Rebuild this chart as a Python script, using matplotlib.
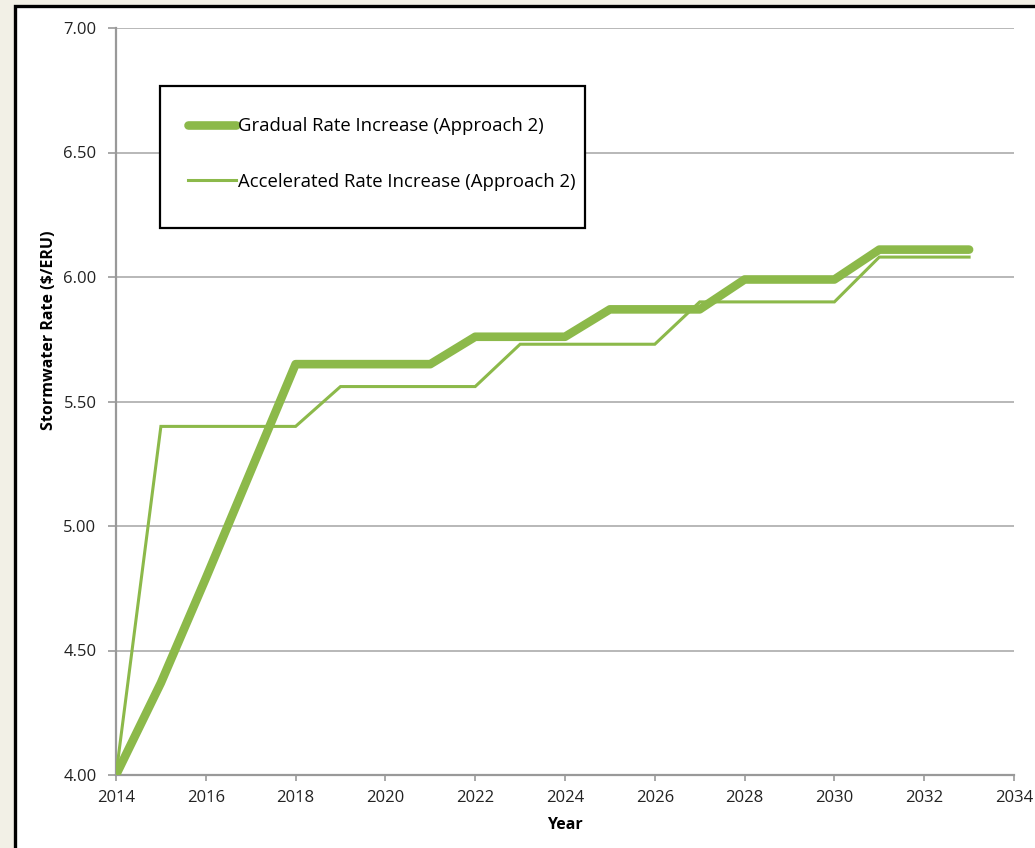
import matplotlib
matplotlib.use("Agg")
import matplotlib.pyplot as plt
from matplotlib.patches import Rectangle
from matplotlib.lines import Line2D

plt.rcParams['font.family'] = ['Open Sans', 'DejaVu Sans']

years = list(range(2014, 2034))
gradual = [4.00, 4.37, 4.79, 5.22, 5.65, 5.65, 5.65, 5.65, 5.76, 5.76,
           5.76, 5.87, 5.87, 5.87, 5.99, 5.99, 5.99, 6.11, 6.11, 6.11]
accelerated = [4.00, 5.40, 5.40, 5.40, 5.40, 5.56, 5.56, 5.56, 5.56, 5.73,
               5.73, 5.73, 5.73, 5.90, 5.90, 5.90, 5.90, 6.08, 6.08, 6.08]
series_names = ["Gradual Rate Increase (Approach 2)",
                "Accelerated Rate Increase (Approach 2)"]
x_ticks = list(range(2014, 2035, 2))
y_ticks = [4.00, 4.50, 5.00, 5.50, 6.00, 6.50, 7.00]

W, H = 1035, 848
fig = plt.figure(figsize=(W / 100, H / 100), dpi=100, facecolor='#f2f0e6')

# white page with a black frame on the left and top
page = Rectangle((15 / W, -0.05), 1.1, (H - 6) / H + 0.05, transform=fig.transFigure,
                 facecolor='white', edgecolor='black', linewidth=2.4, zorder=-10)
fig.add_artist(page)

ax = fig.add_axes([116 / W, 1 - 775 / H, 898 / W, 747 / H])
ax.set_facecolor('none')
ax.set_zorder(1)

green = '#8cb94a'
ax.plot(years, gradual, color=green, linewidth=6.2, solid_capstyle='round',
        solid_joinstyle='round', zorder=3)
ax.plot(years, accelerated, color=green, linewidth=2.2, solid_joinstyle='miter',
        zorder=4)

ax.set_xlim(2014, 2034)
ax.set_ylim(4.0, 7.0)
ax.set_xticks(x_ticks)
ax.set_yticks(y_ticks)
ax.set_yticklabels([f"{v:.2f}" for v in y_ticks])
ax.yaxis.grid(True, color='#ababab', linewidth=1.2)
ax.set_axisbelow(True)

for side in ('top', 'right'):
    ax.spines[side].set_visible(False)
for side in ('left', 'bottom'):
    ax.spines[side].set_color('#999999')
    ax.spines[side].set_linewidth(1.6)

ax.tick_params(axis='y', direction='out', length=6, width=1.2, color='#999999',
               labelsize=12, labelcolor='#222222', pad=8)
ax.tick_params(axis='x', direction='out', length=4, width=1.2, color='#999999',
               labelsize=12, labelcolor='#222222', pad=7)

ax.set_ylabel("Stormwater Rate ($/ERU)", fontsize=11.5, fontweight='bold')
ax.yaxis.set_label_coords((57 - 116) / 898, (775 - 330) / 747)
ax.set_xlabel("Year", fontsize=11.5, fontweight='bold', labelpad=8)

# legend frame
lx0, lx1 = (160 - 116) / 898, (585 - 116) / 898
ly0, ly1 = (775 - 228) / 747, (775 - 86) / 747
ax.add_patch(Rectangle((lx0, ly0), lx1 - lx0, ly1 - ly0, transform=ax.transAxes,
                       facecolor='white', edgecolor='black', linewidth=1.6,
                       zorder=5, clip_on=False))
handles = [Line2D([], [], color=green, linewidth=6.2, solid_capstyle='round'),
           Line2D([], [], color=green, linewidth=2.2)]
leg = ax.legend(handles, series_names, loc='upper left',
                bbox_to_anchor=((188 - 116) / 898, (775 - 117) / 747),
                frameon=False, fontsize=13.3, handlelength=2.6, handletextpad=0.12,
                labelspacing=2.05, borderpad=0.0, borderaxespad=0.0)
leg.set_zorder(6)

fig.savefig("out.png", dpi=100, facecolor=fig.get_facecolor())
